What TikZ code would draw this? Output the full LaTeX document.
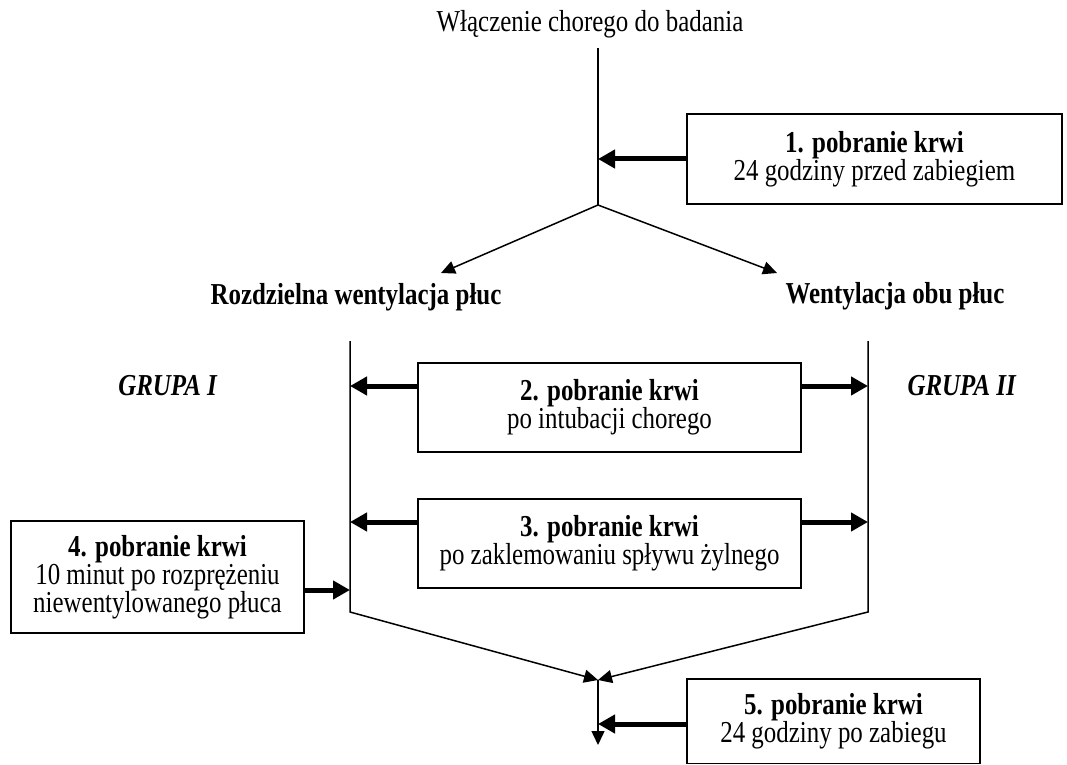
\documentclass[tikz,border=0pt]{standalone}
\usepackage{fontspec}
\setmainfont{Liberation Serif}[FakeStretch=0.82]
\usetikzlibrary{arrows.meta}

\begin{document}
\begin{tikzpicture}
  [
    x=0.5pt, y=-0.5pt,
    every node/.style={font=\fontsize{15.2}{14}\selectfont, inner sep=0pt},
    box/.style={draw=black, line width=0.75pt, align=center},
    fat/.style={line width=2.5pt, -{Triangle[length=8.5pt,width=9pt]}},
    ln/.style={line width=0.75pt, -{Triangle[length=7pt,width=6.5pt]}}
  ]
  \useasboundingbox (0,0) rectangle (1067,765);

  \node (start) at (590,32) [anchor=base] {Włączenie chorego do badania};
  \node (b1) at (874.5,159) [box, minimum width=187.5pt, minimum height=45pt]
    {\textbf{1. pobranie krwi}\\24 godziny przed zabiegiem};
  \node (lRwp) at (356,305) [anchor=base] {\textbf{Rozdzielna wentylacja płuc}};
  \node (lWop) at (895,304) [anchor=base] {\textbf{Wentylacja obu płuc}};
  \node (gr1) at (168,395) [anchor=base] {\textbf{\textit{GRUPA I}}};
  \node (gr2) at (962,395) [anchor=base] {\textbf{\textit{GRUPA II}}};
  \node (b2) at (609.5,407.5) [box, minimum width=191.5pt, minimum height=44.5pt]
    {\textbf{2. pobranie krwi}\\po intubacji chorego};
  \node (b3) at (609.5,543.5) [box, minimum width=191.5pt, minimum height=44.5pt]
    {\textbf{3. pobranie krwi}\\po zaklemowaniu spływu żylnego};
  \node (b4) at (157.5,577) [box, minimum width=146.5pt, minimum height=56pt]
    {\textbf{4. pobranie krwi}\\10 minut po rozprężeniu\\niewentylowanego płuca};
  \node (b5) at (833.5,721.25) [box, minimum width=146.5pt, minimum height=42.25pt]
    {\textbf{5. pobranie krwi}\\24 godziny po zabiegu};

  \coordinate (c0)   at (598,48);
  \coordinate (fork) at (598,205);
  \coordinate (tipL) at (441,273);
  \coordinate (tipR) at (777,273);
  \coordinate (lTop) at (350,341);
  \coordinate (lBot) at (350,612);
  \coordinate (rTop) at (868,341);
  \coordinate (rBot) at (868,612);
  \coordinate (join) at (598,680);
  \coordinate (out)  at (598,745);
  \coordinate (a2)   at (350,386);
  \coordinate (a3)   at (350,522);
  \coordinate (a4)   at (350,590);
  \coordinate (a5)   at (598,724);

  % main flow
  \draw [line width=0.75pt] (c0) -- (fork);
  \draw [ln] (fork) -- (tipL);
  \draw [ln] (fork) -- (tipR);
  \draw [ln] (lTop) -- (lBot) -- (join);
  \draw [ln] (rTop) -- (rBot) -- (join);
  \draw [ln] (join) -- (out);

  % blood samples
  \draw [fat] (b1.west) -- (b1.west -| fork);
  \draw [fat] (b2.west |- a2) -- (a2);
  \draw [fat] (b2.east |- a2) -- (rTop |- a2);
  \draw [fat] (b3.west |- a3) -- (a3);
  \draw [fat] (b3.east |- a3) -- (rTop |- a3);
  \draw [fat] (b4.east |- a4) -- (a4);
  \draw [fat] (b5.west |- a5) -- (a5);
\end{tikzpicture}
\end{document}
